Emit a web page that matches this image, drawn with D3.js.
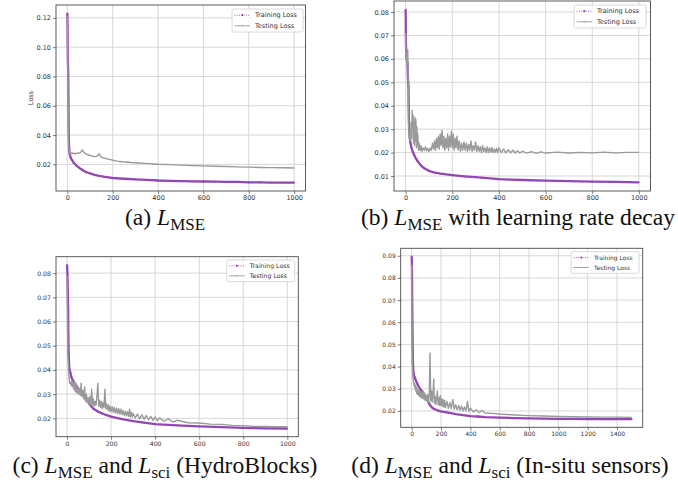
<!DOCTYPE html>
<html>
<head>
<meta charset="utf-8">
<script src="https://cdn.jsdelivr.net/npm/d3@7/dist/d3.min.js"></script>
<style>
body { margin: 0; background: #fff; }
svg { display: block; }
.tick text { font-family: "DejaVu Sans", sans-serif; fill: #333; }
.legend text { font-family: "DejaVu Sans", sans-serif; fill: #333; }
.caption { font-family: "Liberation Serif", serif; fill: #111; }
</style>
</head>
<body>
<svg id="fig" width="678" height="491"></svg>
<script>
// (a) L_MSE
var aTrainEpoch = [0,1,2,3,4,5,6,7,8,10,12,15,20,25,30,40,50,60,70,80,100,120,140,160,180,200,250,300,350,400,450,500,550,600,650,700,750,800,850,900,950,1000];
var aTrain = [0.123,0.115,0.093,0.087,0.082,0.062,0.045,0.036,0.031,0.0275,0.026,0.0245,0.023,0.0218,0.0208,0.0192,0.018,0.0168,0.0158,0.015,0.0138,0.0128,0.0121,0.0116,0.0112,0.0107,0.0102,0.0098,0.0094,0.009,0.0088,0.0086,0.0084,0.0083,0.0082,0.0081,0.008,0.0077,0.0077,0.0076,0.0076,0.0076];
var aTestEpoch = [0,1,2,3,4,5,6,8,10,15,20,25,30,35,40,45,50,55,60,65,70,75,80,90,100,110,120,130,135,140,145,150,160,170,180,190,200,220,240,260,280,300,320,340,360,380,400,450,500,550,600,650,700,750,800,850,900,950,1000];
var aTest = [0.121,0.112,0.09,0.075,0.058,0.042,0.034,0.029,0.0275,0.0272,0.0278,0.0273,0.0276,0.0272,0.0275,0.0278,0.0276,0.0279,0.0284,0.0298,0.029,0.0278,0.0272,0.0266,0.0262,0.0256,0.0253,0.0255,0.0262,0.0272,0.026,0.0248,0.0244,0.024,0.0236,0.0232,0.0228,0.0222,0.0218,0.0216,0.0213,0.0211,0.0209,0.0207,0.0205,0.0203,0.0201,0.0198,0.0195,0.0192,0.019,0.0187,0.0185,0.0183,0.0181,0.0179,0.0178,0.0177,0.0175];

// (b) L_MSE with learning rate decay
var bTrainEpoch = [0,1,2,3,4,5,6,8,10,12,13,14,15,16,18,20,25,30,40,50,60,70,80,100,120,150,200,250,300,350,400,450,500,600,700,800,900,1000];
var bTrain = [0.081,0.068,0.063,0.061,0.0605,0.06,0.059,0.058,0.052,0.048,0.04,0.033,0.030,0.028,0.026,0.0245,0.022,0.0205,0.0182,0.0165,0.0152,0.0141,0.0133,0.0122,0.0116,0.011,0.0104,0.0099,0.0095,0.0091,0.0087,0.0085,0.0083,0.008,0.0078,0.0076,0.0075,0.0073];
var bTestEpoch = [0,1,2,3,4,5,6,7,8,9,10,11,12,13,14,16,18,20,22,24,26,28,30,32,34,36,38,40,42,44,46,48,50,52,55,58,62,66,70,75,80,85,90,95,100,105,110,115,120,124,128,132,136,140,144,148,152,156,160,164,168,172,176,180,184,188,192,196,200,204,208,212,216,220,225,230,235,240,245,250,255,260,265,270,275,280,285,290,295,300,305,310,315,320,325,330,335,340,345,350,355,360,365,370,375,380,385,390,395,400,410,420,430,440,450,460,470,480,490,500,520,540,560,580,600,650,700,750,800,850,900,950,1000];
var bTest = [0.071,0.063,0.061,0.059,0.060,0.058,0.061,0.059,0.062,0.064,0.058,0.050,0.040,0.031,0.027,0.026,0.029,0.025,0.027,0.033,0.026,0.038,0.031,0.036,0.024,0.033,0.023,0.035,0.025,0.034,0.022,0.031,0.023,0.028,0.021,0.024,0.021,0.023,0.0205,0.022,0.021,0.0225,0.0208,0.0218,0.0205,0.022,0.021,0.024,0.0215,0.025,0.021,0.026,0.022,0.027,0.0215,0.028,0.023,0.0295,0.022,0.027,0.021,0.026,0.022,0.028,0.021,0.027,0.0225,0.029,0.022,0.028,0.021,0.026,0.022,0.027,0.021,0.025,0.0205,0.024,0.021,0.0245,0.021,0.024,0.0205,0.0235,0.021,0.025,0.0205,0.023,0.021,0.0245,0.0205,0.023,0.0205,0.0225,0.020,0.023,0.0205,0.022,0.020,0.0225,0.020,0.022,0.0202,0.0222,0.020,0.0215,0.0201,0.0218,0.0200,0.022,0.0200,0.0215,0.0199,0.0212,0.0199,0.021,0.0198,0.0208,0.0198,0.0206,0.0198,0.0204,0.0197,0.0203,0.0198,0.0202,0.0198,0.0201,0.0199,0.0202,0.0199,0.0201,0.0201];

// (c) L_MSE and L_sci (HydroBlocks)
var cTrainEpoch = [0,1,2,3,4,5,6,7,8,10,12,15,20,25,30,40,50,60,70,80,90,100,110,120,140,160,180,200,250,300,350,400,500,600,700,800,900,1000];
var cTrain = [0.0834,0.082,0.079,0.076,0.07,0.065,0.055,0.05,0.046,0.041,0.040,0.039,0.037,0.036,0.0352,0.0338,0.0325,0.031,0.0298,0.0288,0.0275,0.0262,0.025,0.024,0.0228,0.022,0.0213,0.0207,0.0197,0.0189,0.0182,0.0176,0.0171,0.0167,0.0164,0.0161,0.0159,0.0158];
var cTestEpoch = [0,1,2,3,4,6,8,10,13,16,19,22,25,28,31,34,37,40,44,48,52,56,60,64,68,72,76,80,84,88,92,96,100,104,108,112,116,120,124,128,132,136,140,144,148,152,156,160,164,168,172,176,180,184,188,192,196,200,205,210,215,220,225,230,235,240,245,250,255,260,265,270,275,280,284,288,292,296,300,310,320,330,340,350,360,370,380,390,400,410,420,440,460,480,500,550,600,650,700,750,800,850,900,950,1000];
var cTest = [0.079,0.072,0.062,0.055,0.048,0.042,0.038,0.036,0.0345,0.035,0.0335,0.0355,0.033,0.0345,0.032,0.035,0.031,0.0345,0.0305,0.033,0.030,0.032,0.0295,0.0345,0.029,0.0315,0.028,0.033,0.027,0.030,0.0265,0.0285,0.026,0.029,0.0255,0.032,0.0255,0.028,0.025,0.027,0.0255,0.0295,0.0345,0.025,0.0275,0.0245,0.027,0.024,0.0265,0.0245,0.032,0.024,0.026,0.0235,0.0255,0.023,0.025,0.0228,0.0248,0.0225,0.0245,0.0222,0.0242,0.022,0.024,0.0218,0.0238,0.0215,0.0232,0.0212,0.023,0.021,0.0228,0.0208,0.0237,0.0207,0.0225,0.0205,0.022,0.0202,0.0218,0.0198,0.0215,0.0196,0.0212,0.0194,0.0208,0.0192,0.0206,0.0190,0.0202,0.0188,0.0198,0.0185,0.0192,0.0182,0.0181,0.0176,0.0175,0.0171,0.0170,0.0167,0.0167,0.0165,0.0166];

// (d) L_MSE and L_sci (In-situ sensors)
var dTrainEpoch = [0,1,2,3,4,5,6,7,8,10,12,15,20,25,30,40,50,60,70,80,90,100,110,120,130,140,150,175,200,250,300,350,400,450,500,600,700,800,900,1000,1100,1200,1300,1400,1500];
var dTrain = [0.0897,0.087,0.082,0.072,0.066,0.06,0.054,0.048,0.0425,0.039,0.0375,0.036,0.0352,0.0344,0.0335,0.032,0.0307,0.0297,0.0288,0.028,0.027,0.0258,0.0245,0.0232,0.0222,0.0215,0.021,0.0203,0.0198,0.0192,0.0186,0.0181,0.0177,0.0175,0.0172,0.0170,0.0168,0.0167,0.0165,0.0164,0.0164,0.0163,0.0163,0.0163,0.0163];
var dTestEpoch = [0,1,2,3,4,6,8,10,13,16,19,22,25,28,31,34,37,40,44,48,52,56,60,64,68,72,76,80,84,88,92,96,100,105,110,115,120,125,130,135,140,145,150,155,160,165,170,175,180,185,190,195,200,205,210,215,220,225,230,240,250,260,270,280,290,300,310,320,330,340,350,360,370,380,390,400,420,440,460,480,500,550,600,650,700,800,900,1000,1100,1200,1300,1400,1500];
var dTest = [0.086,0.075,0.065,0.055,0.046,0.039,0.036,0.0345,0.033,0.0315,0.0325,0.030,0.0315,0.029,0.031,0.028,0.030,0.0275,0.0295,0.027,0.029,0.0265,0.0285,0.026,0.028,0.0258,0.0292,0.0255,0.028,0.025,0.0275,0.0248,0.027,0.0245,0.0275,0.024,0.028,0.046,0.0245,0.029,0.024,0.0275,0.0344,0.0235,0.0265,0.023,0.0262,0.029,0.0228,0.026,0.0225,0.027,0.0225,0.0255,0.022,0.025,0.0218,0.0248,0.0215,0.0242,0.0212,0.0238,0.021,0.0252,0.0208,0.0228,0.0205,0.0225,0.0203,0.0222,0.0201,0.0218,0.020,0.0243,0.0198,0.0212,0.0196,0.0205,0.0193,0.0202,0.0191,0.0189,0.0186,0.0184,0.0182,0.0179,0.0177,0.0175,0.0174,0.0173,0.0172,0.0172,0.0171];

var xTicks1000 = [0,200,400,600,800,1000];
var xTicks1500 = [0,200,400,600,800,1000,1200,1400];
var legendLabels = ['Training Loss', 'Testing Loss'];

var trainColor = '#9447b2';
var testColor = '#9a9a9a';

var svg = d3.select('#fig');

// Panel layout, pixel boxes of the axes
var panels = [
	{ box: [56, 305.5, 5, 191], trainX: aTrainEpoch, train: aTrain, testX: aTestEpoch, test: aTest,
	  xTicks: xTicks1000, yTicks: [0.02,0.04,0.06,0.08,0.10,0.12], ylabel: 'Loss',
	  legend: [232, 9, 71, 23], fs: 6.5 },
	{ box: [394, 650.5, 1, 191], trainX: bTrainEpoch, train: bTrain, testX: bTestEpoch, test: bTest,
	  xTicks: xTicks1000, yTicks: [0.01,0.02,0.03,0.04,0.05,0.06,0.07,0.08],
	  legend: [574, 5, 72, 23], fs: 6.5 },
	{ box: [56, 298.3, 256.7, 436.7], trainX: cTrainEpoch, train: cTrain, testX: cTestEpoch, test: cTest,
	  xTicks: xTicks1000, yTicks: [0.02,0.03,0.04,0.05,0.06,0.07,0.08],
	  legend: [226.7, 260, 68, 21.7], fs: 6.2 },
	{ box: [400.7, 642.7, 248.3, 427.3], trainX: dTrainEpoch, train: dTrain, testX: dTestEpoch, test: dTest,
	  xTicks: xTicks1500, yTicks: [0.02,0.03,0.04,0.05,0.06,0.07,0.08,0.09],
	  legend: [571, 251.7, 68, 21.6], fs: 6 }
];

// matplotlib style 5% margins
function padded(ext) {
	var d = ext[1] - ext[0];
	return [ext[0] - 0.05 * d, ext[1] + 0.05 * d];
}

function drawPanel(p) {
	var left = p.box[0], right = p.box[1], top = p.box[2], bottom = p.box[3];
	var x = d3.scaleLinear().domain(padded(d3.extent(p.trainX.concat(p.testX)))).range([left, right]);
	var y = d3.scaleLinear().domain(padded(d3.extent(p.train.concat(p.test)))).range([bottom, top]);
	var g = svg.append('g');

	// grid
	g.selectAll('.vg').data(p.xTicks).enter().append('line')
		.attr('x1', function(d) { return x(d); }).attr('x2', function(d) { return x(d); })
		.attr('y1', top).attr('y2', bottom)
		.attr('stroke', '#d2d2d2').attr('stroke-width', 0.9);
	g.selectAll('.hg').data(p.yTicks).enter().append('line')
		.attr('x1', left).attr('x2', right)
		.attr('y1', function(d) { return y(d); }).attr('y2', function(d) { return y(d); })
		.attr('stroke', '#d2d2d2').attr('stroke-width', 0.9);

	var marks = g.append('g');
	var line = d3.line().x(function(d) { return x(d[0]); }).y(function(d) { return y(d[1]); });

	// training loss
	var trainPts = p.trainX.map(function(e, i) { return [e, p.train[i]]; });
	marks.append('path').datum(trainPts)
		.attr('d', line).attr('fill', 'none')
		.attr('stroke', trainColor).attr('stroke-width', 2.3).attr('stroke-linejoin', 'round');
	marks.selectAll('.tm').data(trainPts).enter().append('circle')
		.attr('cx', function(d) { return x(d[0]); }).attr('cy', function(d) { return y(d[1]); })
		.attr('r', 0.9).attr('fill', trainColor);

	// testing loss
	var testPts = p.testX.map(function(e, i) { return [e, p.test[i]]; });
	marks.append('path').datum(testPts)
		.attr('d', line).attr('fill', 'none')
		.attr('stroke', testColor).attr('stroke-width', 1.4).attr('stroke-linejoin', 'round');

	// axes
	var xAxis = d3.axisBottom(x).tickValues(p.xTicks).tickFormat(d3.format('d')).tickSize(3).tickPadding(1.5);
	var yAxis = d3.axisLeft(y).tickValues(p.yTicks).tickFormat(d3.format('.2f')).tickSize(3).tickPadding(2);
	var gx = g.append('g').attr('transform', 'translate(0,' + bottom + ')').call(xAxis);
	var gy = g.append('g').attr('transform', 'translate(' + left + ',0)').call(yAxis);
	[gx, gy].forEach(function(a) {
		a.select('.domain').remove();
		a.selectAll('.tick line').attr('stroke', '#444').attr('stroke-width', 0.7);
		a.selectAll('.tick text').style('font-size', p.fs + 'px');
	});

	// frame
	g.append('rect').attr('x', left).attr('y', top)
		.attr('width', right - left).attr('height', bottom - top)
		.attr('fill', 'none').attr('stroke', '#4a4a4a').attr('stroke-width', 0.9);

	if (p.ylabel) {
		g.append('text')
			.attr('transform', 'translate(' + (left - 25) + ',' + ((top + bottom) / 2) + ') rotate(-90)')
			.attr('text-anchor', 'middle').attr('dy', '0.35em')
			.style('font-family', '"DejaVu Sans", sans-serif').style('font-size', '6.5px').attr('fill', '#333')
			.text(p.ylabel);
	}

	// legend
	var lg = g.append('g').attr('class', 'legend');
	var L = p.legend;
	lg.append('rect').attr('x', L[0]).attr('y', L[1]).attr('width', L[2]).attr('height', L[3])
		.attr('rx', 1.5).attr('fill', '#fff').attr('fill-opacity', 0.85)
		.attr('stroke', '#d0d0d0').attr('stroke-width', 0.8);
	legendLabels.forEach(function(lab, i) {
		var yy = L[1] + L[3] * (i === 0 ? 0.27 : 0.73);
		var ln = lg.append('line').attr('x1', L[0] + 2.5).attr('x2', L[0] + 18)
			.attr('y1', yy).attr('y2', yy);
		if (i === 0) {
			ln.attr('stroke', trainColor).attr('stroke-width', 0.9).attr('stroke-dasharray', '0.9,1.4');
		} else {
			ln.attr('stroke', testColor).attr('stroke-width', 0.9);
		}
		lg.append('circle').attr('cx', L[0] + 10.25).attr('cy', yy).attr('r', i === 0 ? 1.1 : 0.7)
			.attr('fill', i === 0 ? trainColor : testColor);
		lg.append('text').attr('x', L[0] + 23).attr('y', yy).attr('dy', '0.35em')
			.style('font-size', p.fs + 'px').text(lab);
	});
}

panels.forEach(drawPanel);

// Captions
var captions = [
	{ cx: 165, y: 225, parts: [['(a) ', 'n'], ['L', 'i'], ['MSE', 's']] },
	{ cx: 518, y: 225, parts: [['(b) ', 'n'], ['L', 'i'], ['MSE', 's'], [' with learning rate decay', 'n']] },
	{ cx: 165, y: 473, parts: [['(c) ', 'n'], ['L', 'i'], ['MSE', 's'], [' and ', 'n'], ['L', 'i'], ['sci', 's'], [' (HydroBlocks)', 'n']] },
	{ cx: 510, y: 473, parts: [['(d) ', 'n'], ['L', 'i'], ['MSE', 's'], [' and ', 'n'], ['L', 'i'], ['sci', 's'], [' (In-situ sensors)', 'n']] }
];

function drawCaption(c, fs) {
	var t = svg.append('text').attr('class', 'caption')
		.attr('x', c.cx).attr('y', c.y).attr('text-anchor', 'middle')
		.style('font-size', fs + 'px');
	var shifted = false;
	c.parts.forEach(function(pt) {
		var s = t.append('tspan').text(pt[0]);
		if (pt[1] === 'i') s.style('font-style', 'italic');
		if (pt[1] === 's') {
			s.style('font-size', (fs * 0.72) + 'px').attr('dy', fs * 0.2);
			shifted = true;
		} else if (shifted) {
			s.attr('dy', -fs * 0.2);
			shifted = false;
		}
	});
	return t;
}

// fit caption size to the width of caption (c)
var probe = drawCaption(captions[2], 18);
var w = probe.node().getComputedTextLength();
probe.remove();
var capSize = 18 * 305 / w;
captions.forEach(function(c) { drawCaption(c, capSize); });
</script>
</body>
</html>
